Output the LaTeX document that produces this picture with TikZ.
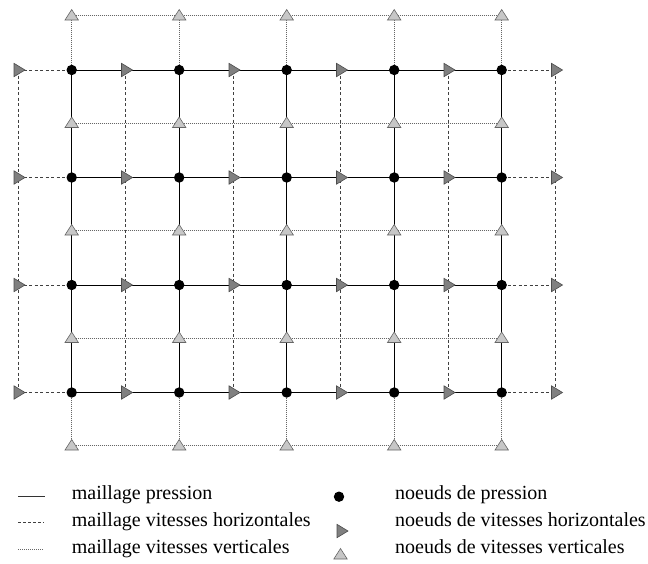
\documentclass[tikz,border=0pt]{standalone}
\usepackage{fontspec}
\setmainfont{Liberation Serif}
\begin{document}
\begin{tikzpicture}[x=1pt,y=-1pt,
  pmesh/.style={draw=black,line width=0.9pt},
  hmesh/.style={draw=black!75,line width=0.8pt,dash pattern=on 3pt off 2.5pt},
  vmesh/.style={draw=black!60,line width=0.6pt,dash pattern=on 1pt off 1pt},
  pdot/.style={fill=black},
  htri/.pic={\filldraw[fill=black!50,draw=black!70,line width=0.6pt] (-4,-6.7) -- (-4,6.7) -- (7,0) -- cycle;},
  vtri/.pic={\filldraw[fill=black!22,draw=black!60,line width=0.6pt] (-6.7,4.5) -- (6.7,4.5) -- (0,-6) -- cycle;},
  legtext/.style={anchor=base west,inner sep=0pt,font=\fontsize{20}{24}\selectfont}
]
\useasboundingbox (0,0) rectangle (648,563);
% coordinates
\foreach \i in {0,...,4}{
  \foreach \j in {0,...,3}{
    \coordinate (p-\i-\j) at ({71.7+107.5*\i},{70+107.5*\j});
  }
  \foreach \j in {0,...,4}{
    \coordinate (v-\i-\j) at ({71.7+107.5*\i},{15.5+107.5*\j});
  }
}
\foreach \i in {0,...,5}{
  \foreach \j in {0,...,3}{
    \coordinate (h-\i-\j) at ({18+107.5*\i},{70+107.5*\j});
  }
}
% vertical velocity mesh (dotted)
\foreach \j in {0,...,4} \draw[vmesh] (v-0-\j) -- (v-4-\j);
\foreach \i in {0,...,4} \draw[vmesh] (v-\i-0) -- (v-\i-4);
% horizontal velocity mesh (dashed)
\foreach \j in {0,...,3} \draw[hmesh] (h-0-\j) -- (h-5-\j);
\foreach \i in {0,...,5} \draw[hmesh] (h-\i-0) -- (h-\i-3);
% pressure mesh (solid)
\foreach \j in {0,...,3} \draw[pmesh] (p-0-\j) -- (p-4-\j);
\foreach \i in {0,...,4} \draw[pmesh] (p-\i-0) -- (p-\i-3);
% nodes
\foreach \i in {0,...,4}{
  \foreach \j in {0,...,4} \pic at (v-\i-\j) {vtri};
}
\foreach \i in {0,...,5}{
  \foreach \j in {0,...,3} \pic at (h-\i-\j) {htri};
}
\foreach \i in {0,...,4}{
  \foreach \j in {0,...,3} \fill[pdot] (p-\i-\j) circle (5.2);
}
% legend
\coordinate (la1) at (18,496.7); \coordinate (lb1) at (45,496.7);
\coordinate (la2) at (18,522.7); \coordinate (lb2) at (44,522.7);
\coordinate (la3) at (18,549.5); \coordinate (lb3) at (44,549.5);
\draw[pmesh,line width=0.7pt,draw=black!80] (la1) -- (lb1);
\draw[hmesh,line width=0.6pt,dash pattern=on 2.5pt off 2.5pt] (la2) -- (lb2);
\draw[vmesh] (la3) -- (lb3);
\node[legtext] (t1) at (71.7,499.5) {maillage pression};
\node[legtext] (t2) at (71.7,526) {maillage vitesses horizontales};
\node[legtext] (t3) at (71.7,553) {maillage vitesses verticales};
\coordinate (sp) at (339,496.7);
\coordinate (sh) at (341,531);
\coordinate (sv) at (340.5,554.5);
\fill[pdot] (sp) circle (5.2);
\pic at (sh) {htri};
\pic at (sv) {vtri};
\node[legtext] (t4) at (395,499.5) {noeuds de pression};
\node[legtext] (t5) at (395,526) {noeuds de vitesses horizontales};
\node[legtext] (t6) at (395,553) {noeuds de vitesses verticales};
\end{tikzpicture}
\end{document}
